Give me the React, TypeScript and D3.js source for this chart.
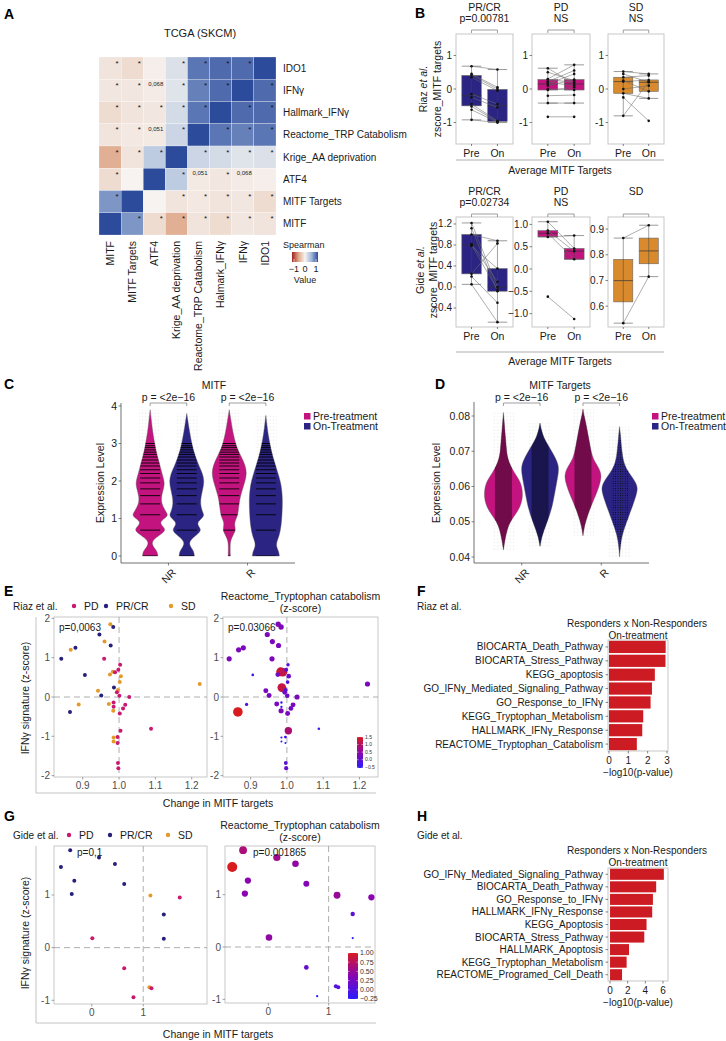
import React from "react";
import * as d3 from "d3";

const FONT = "'Liberation Sans', Arial, Helvetica, sans-serif";
const INK = "#1a1a1a";
const GREY_TXT = "#4d4d4d";
const NAVY = "#2b2483";
const MAGENTA = "#c3137f";
const ORANGE = "#d98a2c";
const BAR_RED = "#cc1b22";
const FRAME = "#c2c2c2";
const PD_COL = "#c9186f";
const PR_COL = "#27207a";
const SD_COL = "#e39a2b";

/* ---------------- Panel A data ---------------- */
const hmRows = ["IDO1", "IFNγ", "Hallmark_IFNγ", "Reactome_TRP Catabolism", "Krige_AA deprivation", "ATF4", "MITF Targets", "MITF"];
const hmCols = ["MITF", "MITF Targets", "ATF4", "Krige_AA deprivation", "Reactome_TRP Catabolism", "Halmark_IFNγ", "IFNγ", "IDO1"];
const hmValues = [
  [-0.10, -0.15, -0.03, 0.15, 0.80, 0.85, 0.85, 1],
  [-0.08, -0.08, -0.05, 0.13, 0.75, 0.85, 1, 0.85],
  [-0.15, -0.10, -0.08, 0.20, 0.80, 1, 0.85, 0.85],
  [-0.10, -0.07, -0.06, 0.25, 1, 0.80, 0.75, 0.80],
  [-0.45, -0.10, 0.32, 1, 0.25, 0.20, 0.13, 0.15],
  [-0.15, 0.00, 1, 0.32, -0.06, -0.08, -0.05, -0.03],
  [0.65, 1, 0.00, -0.10, -0.07, -0.10, -0.08, -0.15],
  [1, 0.65, -0.15, -0.45, -0.10, -0.15, -0.08, -0.10],
];
const hmSig: (number | string)[][] = [
  [1, 1, 0, 1, 1, 1, 1, 0],
  [1, 1, "0,068", 1, 1, 1, 0, 1],
  [1, 1, 1, 1, 1, 0, 1, 1],
  [1, 1, "0,051", 1, 0, 1, 1, 1],
  [1, 1, 1, 0, 1, 1, 1, 1],
  [1, 0, 0, 1, "0,051", 1, "0,068", 0],
  [1, 0, 0, 1, 1, 1, 1, 1],
  [0, 1, 1, 1, 1, 1, 1, 1],
];
const hmLegendTicks = [-1, 0, 1];

/* ---------------- Panel B data ---------------- */
const timepoints = ["Pre", "On"];
const riazPRCR_pre = [0.68, 0.45, 0.42, 0.35, -0.15, -0.25, -0.45, -0.52, -0.62, -0.92];
const riazPRCR_on = [0.58, 0.05, 0.0, -0.05, -0.45, -0.55, -0.95, -0.97, -0.99, -1.0];
const riazPD_pre = [-0.83, -0.42, -0.2, -0.03, 0.0, 0.1, 0.15, 0.2, 0.22, 0.28, 0.3, 0.5, 0.62];
const riazPD_on = [-0.83, -0.42, -0.18, 0.05, -0.03, 0.28, 0.45, 0.1, 0.55, 0.2, 0.72, 0.25, 0.15];
const riazSD_pre = [-0.8, -0.25, -0.13, 0.0, 0.22, 0.25, 0.35, 0.45, 0.52];
const riazSD_on = [0.22, -0.95, -0.28, 0.1, 0.27, -0.07, 0.4, 0.2, 0.45];
const gidePRCR_pre = [0.05, 0.2, 0.25, 0.78, 0.8, 0.82, 1.0, 1.12, 1.22];
const gidePRCR_on = [-0.67, -0.3, 0.83, 0.35, -0.05, 0.1, 0.88, -0.08, 0.0];
const gidePD_pre = [1.06, 0.86, 0.8, 0.72, -0.62];
const gidePD_on = [0.46, 0.4, 0.22, 0.75, -1.12];
const gideSD_pre = [0.865, 0.534];
const gideSD_on = [0.915, 0.715];
const riazTicks = [-1, 0, 1];
const gidePRCRTicks = [-0.4, 0, 0.4, 0.8, 1.2];
const gidePDTicks = [-1, -0.5, 0, 0.5, 1];
const gideSDTicks = [0.6, 0.7, 0.8, 0.9];

/* ---------------- Panel C / D data ---------------- */
const respCats = ["NR", "R"];
const mitfTicks = [0, 1, 2, 3, 4];
// [expression level, relative density]
const mitfNRPre: [number, number][] = [[0, 0.42], [0.12, 0.4], [0.22, 0.22], [0.33, 0.08], [0.45, 0.2], [0.58, 0.6], [0.7, 0.9], [0.82, 0.62], [0.92, 0.55], [1.02, 0.85], [1.1, 1.0], [1.2, 0.85], [1.4, 0.62], [1.6, 0.62], [1.8, 0.75], [1.95, 0.8], [2.1, 0.72], [2.3, 0.6], [2.5, 0.5], [2.75, 0.35], [3.0, 0.25], [3.3, 0.14], [3.6, 0.07], [3.9, 0]];
const mitfNROn: [number, number][] = [[0, 0.42], [0.12, 0.4], [0.22, 0.25], [0.33, 0.12], [0.45, 0.25], [0.58, 0.6], [0.7, 0.83], [0.82, 0.6], [0.92, 0.62], [1.02, 0.88], [1.1, 0.97], [1.2, 0.85], [1.4, 0.75], [1.6, 0.8], [1.8, 0.9], [2.0, 0.97], [2.2, 0.88], [2.4, 0.68], [2.6, 0.52], [2.8, 0.38], [3.0, 0.28], [3.3, 0.16], [3.55, 0.08], [3.8, 0]];
const mitfRPre: [number, number][] = [[0, 0.06], [0.15, 0.05], [0.3, 0.05], [0.42, 0.08], [0.55, 0.2], [0.68, 0.36], [0.8, 0.3], [0.92, 0.3], [1.05, 0.45], [1.2, 0.5], [1.4, 0.55], [1.6, 0.62], [1.8, 0.75], [2.0, 0.88], [2.2, 0.97], [2.4, 0.9], [2.6, 0.72], [2.8, 0.5], [3.0, 0.35], [3.3, 0.2], [3.6, 0.1], [3.9, 0]];
const mitfROn: [number, number][] = [[0, 0.75], [0.12, 0.72], [0.25, 0.58], [0.38, 0.6], [0.55, 0.75], [0.8, 0.85], [1.1, 0.9], [1.5, 0.93], [1.8, 0.88], [2.0, 0.8], [2.2, 0.68], [2.5, 0.48], [2.8, 0.3], [3.1, 0.18], [3.4, 0.08], [3.75, 0]];
const mitfLevels = [0, 0.69, 1.1, 1.39, 1.61, 1.79, 1.95, 2.08, 2.2, 2.3, 2.4, 2.48, 2.56, 2.64, 2.71, 2.77, 2.83, 2.89, 2.94, 3.0];

const tgtTicks = [0.04, 0.05, 0.06, 0.07, 0.08];
const tgtNRPre: [number, number][] = [[0.042, 0], [0.045, 0.08], [0.048, 0.2], [0.05, 0.35], [0.052, 0.6], [0.054, 0.85], [0.057, 1.0], [0.06, 0.95], [0.062, 0.8], [0.064, 0.55], [0.066, 0.35], [0.068, 0.22], [0.07, 0.16], [0.073, 0.12], [0.076, 0.07], [0.079, 0.03], [0.081, 0]];
const tgtNROn: [number, number][] = [[0.043, 0], [0.046, 0.1], [0.049, 0.3], [0.052, 0.5], [0.055, 0.65], [0.058, 0.75], [0.061, 0.85], [0.064, 0.95], [0.066, 0.95], [0.068, 0.8], [0.07, 0.6], [0.072, 0.38], [0.074, 0.18], [0.076, 0.07], [0.078, 0]];
const tgtRPre: [number, number][] = [[0.046, 0], [0.049, 0.08], [0.052, 0.25], [0.055, 0.45], [0.058, 0.7], [0.061, 0.88], [0.063, 0.95], [0.065, 0.85], [0.067, 0.6], [0.069, 0.45], [0.072, 0.35], [0.075, 0.25], [0.078, 0.15], [0.08, 0.06], [0.082, 0]];
const tgtROn: [number, number][] = [[0.04, 0], [0.043, 0.04], [0.046, 0.12], [0.049, 0.3], [0.052, 0.5], [0.055, 0.7], [0.058, 0.88], [0.0595, 0.92], [0.061, 0.85], [0.063, 0.6], [0.065, 0.35], [0.067, 0.2], [0.07, 0.12], [0.073, 0.07], [0.075, 0.04], [0.077, 0]];

/* ---------------- Panel E data (Riaz) ---------------- */
const riazX = [0.976, 0.984, 0.946, 0.96, 0.977, 0.88, 0.867, 0.841, 0.959, 1.003, 0.998, 0.983, 0.989, 0.906, 0.975, 1.005, 1.002, 0.986, 0.942, 0.997, 0.994, 0.951, 1.001, 1.028, 1.222, 0.865, 0.889, 0.972, 0.985, 1.017, 1.011, 0.985, 0.984, 1.002, 1.088, 1.004, 0.985, 0.996, 0.985, 0.996, 0.997, 0.998];
const riazY = [1.85, 1.78, 1.59, 1.41, 1.31, 1.25, 1.2, 0.97, 0.97, 0.82, 0.69, 0.64, 0.63, 0.56, 0.57, 0.53, 0.38, 0.24, 0.16, 0.18, 0.12, 0.04, 0.03, 0.0, 0.33, -0.38, -0.19, -0.18, -0.14, -0.2, -0.29, -0.25, -0.35, -0.42, -0.81, -0.86, -1.03, -1.02, -1.13, -1.17, -1.68, -1.81];
const riazGroup = ["SD", "PR/CR", "PR/CR", "SD", "PR/CR", "PR/CR", "SD", "PR/CR", "PD", "PD", "PD", "SD", "PD", "PR/CR", "SD", "SD", "SD", "PR/CR", "SD", "SD", "PD", "PR/CR", "PD", "PD", "SD", "PR/CR", "SD", "SD", "PD", "PD", "PD", "PD", "SD", "PD", "PD", "PD", "SD", "PD", "SD", "PD", "PD", "PD"];
const riazTrp = [0.35, 0.35, 0.3, 0.3, 0.3, 0.3, 0.3, 0.3, 0.3, -0.15, 0.0, 1.35, 1.2, -0.35, 0.2, 0.15, -0.1, 1.25, 0.25, -0.1, 0.2, 0.25, 0.15, 0.3, 0.3, 1.5, -0.2, 0.25, -0.45, 0.25, 0.2, -0.45, 0.3, 0.25, -0.4, 0.9, -0.5, -0.3, -0.55, -0.55, -0.05, 0.05];
const riazXTicks = [0.9, 1.0, 1.1, 1.2];
const riazYTicks = [-2, -1, 0, 1, 2];
const riazTrpTicks = [-0.5, 0, 0.5, 1, 1.5];

/* ---------------- Panel G data (Gide) ---------------- */
const gideX = [-0.42, -0.6, 0.14, 0.45, -0.34, -0.39, 0.63, 1.14, 1.71, 1.4, 1.4, 0.01, 0.63, 0.81, 1.12, 1.16];
const gideY = [1.85, 1.53, 1.71, 1.59, 1.27, 1.02, 1.21, 0.99, 0.95, 0.63, 0.17, 0.18, -0.39, -0.94, -0.75, -0.77];
const gideGroup = ["PR/CR", "PR/CR", "PR/CR", "PR/CR", "PR/CR", "PR/CR", "PR/CR", "SD", "PD", "PR/CR", "PR/CR", "PD", "PD", "PD", "SD", "PD"];
const gideTrp = [0.65, 1.0, 0.55, 0.45, 0.4, 0.4, 0.35, 0.5, 0.4, 0.1, -0.25, 0.45, 0.15, -0.25, 0.05, 0.05];
const gideXTicks = [0, 1];
const gideYTicks = [-1, 0, 1];
const gideTrpTicks = [-0.25, 0, 0.25, 0.5, 0.75, 1.0];

const respGroups = ["PD", "PR/CR", "SD"];
const respColors = [PD_COL, PR_COL, SD_COL];

/* ---------------- Panel F / H data ---------------- */
const riazPathways = ["BIOCARTA_Death_Pathway", "BIOCARTA_Stress_Pathway", "KEGG_apoptosis", "GO_IFNγ_Mediated_Signaling_Pathway", "GO_Response_to_IFNγ", "KEGG_Tryptophan_Metabolism", "HALLMARK_IFNγ_Response", "REACTOME_Tryptophan_Catabolism"];
const riazLogP = [2.93, 2.92, 2.37, 2.22, 2.15, 1.77, 1.72, 1.44];
const riazBarTicks = [0, 1, 2, 3];
const gidePathways = ["GO_IFNγ_Mediated_Signaling_Pathway", "BIOCARTA_Death_Pathway", "GO_Response_to_IFNγ", "HALLMARK_IFNγ_Response", "KEGG_Apoptosis", "BIOCARTA_Stress_Pathway", "HALLMARK_Apoptosis", "KEGG_Tryptophan_Metabolism", "REACTOME_Programed_Cell_Death"];
const gideLogP = [6.1, 5.23, 4.86, 4.78, 4.14, 3.88, 2.15, 1.88, 1.36];
const gideBarTicks = [0, 2, 4, 6];

/* ================= helpers ================= */
function boxStats(vals: number[]) {
  const s = vals.slice().sort(d3.ascending);
  const q1 = d3.quantileSorted(s, 0.25) as number;
  const med = d3.quantileSorted(s, 0.5) as number;
  const q3 = d3.quantileSorted(s, 0.75) as number;
  const iqr = q3 - q1;
  const lo = d3.min(s.filter((v) => v >= q1 - 1.5 * iqr - 1e-9)) as number;
  const hi = d3.max(s.filter((v) => v <= q3 + 1.5 * iqr + 1e-9)) as number;
  return { q1, med, q3, lo, hi };
}

const Letter = ({ x, y, t }: any) => (
  <text x={x} y={y} fontSize={14} fontWeight="bold" fill="#000">{t}</text>
);

/* ================= Panel A ================= */
function PanelA() {
  const x = d3.scaleBand<string>().domain(hmCols).range([99, 276]);
  const y = d3.scaleBand<string>().domain(hmRows).range([57, 235]);
  const color = d3.scaleLinear<string>().domain([-1, -0.5, 0, 0.5, 1]).range(["#a0211f", "#dfa78a", "#f6f3f0", "#9fb6d9", "#2d4b9b"]).clamp(true);
  const lg = d3.scaleLinear().domain([-1, 1]).range([294, 316]);
  const bw = x.bandwidth(), bh = y.bandwidth();
  return (
    <g>
      <defs>
        <linearGradient id="hmGrad" x1="0" x2="1" y1="0" y2="0">
          {[-1, -0.5, 0, 0.5, 1].map((v) => (
            <stop key={v} offset={`${((v + 1) / 2) * 100}%`} stopColor={color(v)} />
          ))}
        </linearGradient>
      </defs>
      <Letter x={4} y={19} t="A" />
      <text x={200} y={33} dy="0.35em" textAnchor="middle" fontSize={11} fill={INK}>TCGA (SKCM)</text>
      {hmRows.map((r, i) =>
        hmCols.map((c, j) => {
          const cx = x(c) as number, cy = y(r) as number;
          const s = hmSig[i][j];
          return (
            <g key={r + c}>
              <rect x={cx} y={cy} width={bw} height={bh} fill={color(hmValues[i][j])} stroke="#ffffff" strokeWidth={0.25} />
              {s === 1 && <text x={cx + bw - 4} y={cy + 8.5} fontSize={8} textAnchor="middle" fill="#111">*</text>}
              {typeof s === "string" && <text x={cx + 5} y={cy + 5} dy="0.35em" fontSize={6} fill="#222">{s}</text>}
            </g>
          );
        })
      )}
      {hmRows.map((r) => (
        <text key={r} x={283} y={(y(r) as number) + bh / 2} dy="0.35em" fontSize={10} fill={INK}>{r}</text>
      ))}
      {hmCols.map((c) => {
        const cx = (x(c) as number) + bw / 2;
        return (
          <text key={c} transform={`translate(${cx},241) rotate(-90)`} textAnchor="end" dy="0.35em" fontSize={10.5} fill={INK}>{c}</text>
        );
      })}
      <text x={283} y={248} fontSize={9} fill={INK}>Spearman</text>
      <rect x={292} y={252} width={26} height={10} fill="url(#hmGrad)" />
      {hmLegendTicks.map((t) => (
        <g key={t}>
          <line x1={lg(t)} x2={lg(t)} y1={259} y2={262} stroke="#fff" strokeWidth={0.6} />
          <text x={lg(t)} y={272} textAnchor="middle" fontSize={9} fill={INK}>{t === -1 ? "−1" : t}</text>
        </g>
      ))}
      <text x={305} y={283} textAnchor="middle" fontSize={9} fill={INK}>Value</text>
    </g>
  );
}

/* ================= Panel B ================= */
function BoxPanel({ x0, x1, y0, y1, domain, ticks, fmt, fill, pre, on, titles, titleYs, bracketY }: any) {
  const xs = d3.scalePoint<string>().domain(timepoints).range([x0, x1]).padding(0.6);
  const ys = d3.scaleLinear().domain(domain).range([y1, y0]);
  const bw = xs.step() * 0.75;
  const px = timepoints.map((t) => xs(t) as number);
  const groups = [pre, on];
  return (
    <g>
      <rect x={x0} y={y0} width={x1 - x0} height={y1 - y0} fill="#fff" stroke={FRAME} strokeWidth={0.9} />
      {ticks.map((t: number) => (
        <g key={t}>
          <line x1={x0 - 2.5} x2={x0} y1={ys(t)} y2={ys(t)} stroke="#333" strokeWidth={0.6} />
          <text x={x0 - 4} y={ys(t)} dy="0.35em" textAnchor="end" fontSize={10} fill={INK}>{fmt(t)}</text>
        </g>
      ))}
      {groups.map((g: number[], i: number) => {
        const st = boxStats(g);
        const cx = px[i];
        return (
          <g key={i}>
            <rect x={cx - bw / 2} y={ys(st.q3)} width={bw} height={ys(st.q1) - ys(st.q3)} fill={fill} stroke="#666" strokeWidth={0.6} />
            <line x1={cx - bw / 2} x2={cx + bw / 2} y1={ys(st.med)} y2={ys(st.med)} stroke="#333" strokeWidth={0.7} />
            <line x1={cx} x2={cx} y1={ys(st.hi)} y2={ys(st.lo)} stroke="#444" strokeWidth={0.5} />
            <line x1={cx - bw / 2} x2={cx + bw / 2} y1={ys(st.hi)} y2={ys(st.hi)} stroke="#555" strokeWidth={0.6} />
            <line x1={cx - bw / 2} x2={cx + bw / 2} y1={ys(st.lo)} y2={ys(st.lo)} stroke="#555" strokeWidth={0.6} />
          </g>
        );
      })}
      {pre.map((v: number, k: number) => (
        <line key={k} x1={px[0]} y1={ys(v)} x2={px[1]} y2={ys(on[k])} stroke="#6a6a6a" strokeWidth={0.55} />
      ))}
      {groups.map((g: number[], i: number) =>
        g.map((v, k) => <circle key={i + "-" + k} cx={px[i]} cy={ys(v)} r={1.3} fill="#111" />)
      )}
      {timepoints.map((t, i) => (
        <g key={t}>
          <line x1={px[i]} x2={px[i]} y1={y1} y2={y1 + 2} stroke="#333" strokeWidth={0.6} />
          <text x={px[i]} y={y1 + 9} dy="0.35em" textAnchor="middle" fontSize={10.5} fill={INK}>{t}</text>
        </g>
      ))}
      {titles.map((t: string, i: number) => (
        <text key={i} x={(px[0] + px[1]) / 2} y={titleYs[i]} dy="0.35em" textAnchor="middle" fontSize={10.5} fill={INK}>{t}</text>
      ))}
      <path d={`M${px[0]},${bracketY + 3}V${bracketY}H${px[1]}V${bracketY + 3}`} fill="none" stroke="#777" strokeWidth={0.7} />
    </g>
  );
}

function PanelB() {
  const f1 = d3.format(".1f");
  const fi = (d: number) => String(d);
  const riazDomain = [-1.64, 1.64];
  const xr = [[456, 513], [532, 590], [608, 664]];
  return (
    <g>
      <Letter x={415} y={18} t="B" />
      <BoxPanel x0={xr[0][0]} x1={xr[0][1]} y0={34} y1={144} domain={riazDomain} ticks={riazTicks} fmt={fi} fill={NAVY} pre={riazPRCR_pre} on={riazPRCR_on} titles={["PR/CR", "p=0.00781"]} titleYs={[7, 18]} bracketY={30} />
      <BoxPanel x0={xr[1][0]} x1={xr[1][1]} y0={34} y1={144} domain={riazDomain} ticks={riazTicks} fmt={fi} fill={MAGENTA} pre={riazPD_pre} on={riazPD_on} titles={["PD", "NS"]} titleYs={[7, 18]} bracketY={30} />
      <BoxPanel x0={xr[2][0]} x1={xr[2][1]} y0={34} y1={144} domain={riazDomain} ticks={riazTicks} fmt={fi} fill={ORANGE} pre={riazSD_pre} on={riazSD_on} titles={["SD", "NS"]} titleYs={[7, 18]} bracketY={30} />
      <text transform="translate(423,89) rotate(-90)" textAnchor="middle" dy="0.35em" fontSize={10.5} fill={INK}>
        <tspan>Riaz </tspan><tspan fontStyle="italic">et al.</tspan>
      </text>
      <text transform="translate(437,89) rotate(-90)" textAnchor="middle" dy="0.35em" fontSize={10.5} fill={INK}>zscore_MITF targets</text>
      <line x1={456} x2={664} y1={160} y2={160} stroke="#999" strokeWidth={0.8} />
      <text x={560} y={170} dy="0.35em" textAnchor="middle" fontSize={10.5} fill={INK}>Average MITF Targets</text>

      <BoxPanel x0={xr[0][0]} x1={xr[0][1]} y0={217} y1={327} domain={[-0.762, 1.333]} ticks={gidePRCRTicks} fmt={f1} fill={NAVY} pre={gidePRCR_pre} on={gidePRCR_on} titles={["PR/CR", "p=0.02734"]} titleYs={[191, 202]} bracketY={214} />
      <BoxPanel x0={xr[1][0]} x1={xr[1][1]} y0={217} y1={327} domain={[-1.3, 1.166]} ticks={gidePDTicks} fmt={f1} fill={MAGENTA} pre={gidePD_pre} on={gidePD_on} titles={["PD", "NS"]} titleYs={[191, 202]} bracketY={214} />
      <BoxPanel x0={xr[2][0]} x1={xr[2][1]} y0={217} y1={327} domain={[0.519, 0.947]} ticks={gideSDTicks} fmt={f1} fill={ORANGE} pre={gideSD_pre} on={gideSD_on} titles={["SD"]} titleYs={[191]} bracketY={214} />
      <text transform="translate(420,270) rotate(-90)" textAnchor="middle" dy="0.35em" fontSize={10.5} fill={INK}>
        <tspan>Gide </tspan><tspan fontStyle="italic">et al.</tspan>
      </text>
      <text transform="translate(433,270) rotate(-90)" textAnchor="middle" dy="0.35em" fontSize={10.5} fill={INK}>zscore_MITF targets</text>
      <line x1={456} x2={664} y1={352} y2={352} stroke="#999" strokeWidth={0.8} />
      <text x={560} y={361} dy="0.35em" textAnchor="middle" fontSize={10.5} fill={INK}>Average MITF Targets</text>
    </g>
  );
}

/* ================= Panels C / D ================= */
function violinPath(cx: number, ys: any, prof: [number, number][], maxHalf: number) {
  const area = d3
    .area<[number, number]>()
    .y((d) => ys(d[0]))
    .x0((d) => cx - d[1] * maxHalf)
    .x1((d) => cx + d[1] * maxHalf)
    .curve(d3.curveBasis);
  return area(prof) as string;
}

function ViolinPanel(props: any) {
  const { id, ax0, ax1, ayTop, ayBot, ys, ticks, fmt, specs, mode, title, titleX, ylabX, legendX, letterX } = props;
  const xs = d3.scalePoint<string>().domain(respCats).range([ax0, ax1]).padding(0.6);
  const dodge = 18.3;
  const maxHalf = mode === "levels" ? 18 : 19.5;
  return (
    <g>
      <Letter x={letterX} y={389} t={mode === "levels" ? "C" : "D"} />
      <text x={titleX} y={385} dy="0.35em" textAnchor="middle" fontSize={10.5} fill={INK}>{title}</text>
      {specs.map((s: any, i: number) => {
        const cx = (xs(s.cat) as number) + s.side * dodge;
        const d = violinPath(cx, ys, s.prof, maxHalf);
        const vmin = s.prof[0][0], vmax = s.prof[s.prof.length - 1][0];
        const cid = `${id}-clip-${i}`;
        return (
          <g key={i}>
            <defs>
              <clipPath id={cid}><path d={d} /></clipPath>
            </defs>
            {mode === "levels" ? (
              <rect x={cx - 11} width={22} y={ys(vmax)} height={ys(2.7) - ys(vmax)} fill="url(#pSparse)" />
            ) : (
              <rect x={cx - 11} width={22} y={ys(vmax)} height={ys(vmin) - ys(vmax)} fill="url(#pSparse)" />
            )}
            <path d={d} fill={s.fill} stroke="#555" strokeWidth={0.4} />
            {mode === "levels" ? (
              <g clipPath={`url(#${cid})`}>
                {mitfLevels.filter((l) => l < vmax).map((l) => (
                  <line key={l} x1={cx - 10} x2={cx + 10} y1={ys(l)} y2={ys(l)} stroke="#000" strokeWidth={0.9} />
                ))}
              </g>
            ) : (
              <rect clipPath={`url(#${cid})`} x={cx - 8.5} width={17} y={ys(vmax)} height={ys(vmin) - ys(vmax)} fill={s.dense ? "url(#pDense)" : "url(#pMed)"} />
            )}
          </g>
        );
      })}
      {/* brackets */}
      {respCats.map((c) => {
        const a = (xs(c) as number) - dodge, b = (xs(c) as number) + dodge;
        return (
          <g key={c}>
            <path d={`M${a},406V403H${b}V406`} fill="none" stroke="#777" strokeWidth={0.7} />
            <text x={(a + b) / 2} y={397} dy="0.35em" textAnchor="middle" fontSize={10.5} fill={INK}>p = &lt;2e−16</text>
          </g>
        );
      })}
      {/* axes */}
      <line x1={ax0} x2={ax0} y1={ayTop} y2={ayBot} stroke="#333" strokeWidth={0.7} />
      <line x1={ax0} x2={ax1} y1={ayBot} y2={ayBot} stroke="#333" strokeWidth={0.7} />
      {ticks.map((t: number) => (
        <g key={t}>
          <line x1={ax0 - 2.5} x2={ax0} y1={ys(t)} y2={ys(t)} stroke="#333" strokeWidth={0.6} />
          <text x={ax0 - 4} y={ys(t)} dy="0.35em" textAnchor="end" fontSize={10.5} fill={INK}>{fmt(t)}</text>
        </g>
      ))}
      {respCats.map((c) => (
        <g key={c}>
          <line x1={xs(c) as number} x2={xs(c) as number} y1={ayBot} y2={ayBot + 2.5} stroke="#333" strokeWidth={0.6} />
          <text transform={`translate(${(xs(c) as number) + 3},${ayBot + 5}) rotate(-45)`} textAnchor="end" dy="0.7em" fontSize={10.5} fill={INK}>{c}</text>
        </g>
      ))}
      <text transform={`translate(${ylabX},483) rotate(-90)`} textAnchor="middle" dy="0.35em" fontSize={10.5} fill={INK}>Expression Level</text>
      {/* legend */}
      <rect x={legendX} y={413} width={6.5} height={6.5} fill={MAGENTA} />
      <rect x={legendX} y={423} width={6.5} height={6.5} fill={NAVY} />
      <text x={legendX + 9} y={416} dy="0.35em" fontSize={10.5} fill={INK}>Pre-treatment</text>
      <text x={legendX + 9} y={426} dy="0.35em" fontSize={10.5} fill={INK}>On-Treatment</text>
    </g>
  );
}

function PanelC() {
  const ys = d3.scaleLinear().domain([0, 4]).range([556, 406]);
  const specs = [
    { cat: "NR", side: -1, prof: mitfNRPre, fill: MAGENTA },
    { cat: "NR", side: 1, prof: mitfNROn, fill: NAVY },
    { cat: "R", side: -1, prof: mitfRPre, fill: MAGENTA },
    { cat: "R", side: 1, prof: mitfROn, fill: NAVY },
  ];
  return (
    <ViolinPanel id="c" ax0={121} ax1={295} ayTop={403} ayBot={563} ys={ys} ticks={mitfTicks} fmt={(d: number) => String(d)} specs={specs} mode="levels" title="MITF" titleX={214} ylabX={100} legendX={304} letterX={4} />
  );
}

function PanelD() {
  const ys = d3.scaleLinear().domain([0.04, 0.08]).range([557, 416]);
  const specs = [
    { cat: "NR", side: -1, prof: tgtNRPre, fill: MAGENTA, dense: true },
    { cat: "NR", side: 1, prof: tgtNROn, fill: NAVY, dense: true },
    { cat: "R", side: -1, prof: tgtRPre, fill: MAGENTA, dense: true },
    { cat: "R", side: 1, prof: tgtROn, fill: NAVY, dense: false },
  ];
  return (
    <ViolinPanel id="d" ax0={474} ax1={649} ayTop={402} ayBot={563} ys={ys} ticks={tgtTicks} fmt={d3.format(".2f")} specs={specs} mode="dots" title="MITF Targets" titleX={560} ylabX={436} legendX={652} letterX={435} />
  );
}

/* ================= Panels E / G ================= */
function ScatterFrame({ xs, ys, xTicks, yTicks, xFmt, yFmt }: any) {
  const [x0, x1] = xs.range();
  const [y1, y0] = ys.range();
  return (
    <g>
      <rect x={x0} y={y0} width={x1 - x0} height={y1 - y0} fill="#fff" stroke={FRAME} strokeWidth={0.9} />
      <line x1={xs(1)} x2={xs(1)} y1={y0} y2={y1} stroke="#999" strokeWidth={0.8} strokeDasharray="6,4" />
      <line x1={x0} x2={x1} y1={ys(0)} y2={ys(0)} stroke="#999" strokeWidth={0.8} strokeDasharray="6,4" />
      {yTicks.map((t: number) => (
        <g key={t}>
          <line x1={x0 - 2.5} x2={x0} y1={ys(t)} y2={ys(t)} stroke="#666" strokeWidth={0.6} />
          <text x={x0 - 4} y={ys(t)} dy="0.35em" textAnchor="end" fontSize={10} fill={GREY_TXT}>{yFmt(t)}</text>
        </g>
      ))}
      {xTicks.map((t: number) => (
        <g key={t}>
          <line x1={xs(t)} x2={xs(t)} y1={y1} y2={y1 + 2.5} stroke="#666" strokeWidth={0.6} />
          <text x={xs(t)} y={y1 + 8} dy="0.35em" textAnchor="middle" fontSize={10} fill={GREY_TXT}>{xFmt(t)}</text>
        </g>
      ))}
    </g>
  );
}

function ColorBar({ x, yTop, yBot, w, domain, ticks, fmt, color, fs, id }: any) {
  const s = d3.scaleLinear().domain(domain).range([yBot, yTop]);
  const stops = d3.range(0, 1.0001, 0.25).map((p) => domain[0] + p * (domain[1] - domain[0]));
  return (
    <g>
      <defs>
        <linearGradient id={id} x1="0" x2="0" y1="1" y2="0">
          {stops.map((v: number, i: number) => (
            <stop key={i} offset={`${(i / (stops.length - 1)) * 100}%`} stopColor={color(v)} />
          ))}
        </linearGradient>
      </defs>
      <rect x={x} y={yTop} width={w} height={yBot - yTop} fill={`url(#${id})`} />
      {ticks.map((t: number) => (
        <g key={t}>
          <line x1={x} x2={x + 1.5} y1={s(t)} y2={s(t)} stroke="#fff" strokeWidth={0.5} />
          <line x1={x + w - 1.5} x2={x + w} y1={s(t)} y2={s(t)} stroke="#fff" strokeWidth={0.5} />
          <text x={x + w + 2} y={s(t)} dy="0.35em" fontSize={fs} fill="#333">{fmt(t)}</text>
        </g>
      ))}
    </g>
  );
}

function ScatterPanel(props: any) {
  const { letter, letterY, study, legendY, legendDots, f1, f2, xd1, xd2, yd, xTicks, yTicks, xFmt, X, Y, G, Z, pos1, pos2, p1, p2, titleY, zDomain, zMid, zTicks, zFmt, rRange, cb, border, xlabY, ylabY } = props;
  const xs1 = d3.scaleLinear().domain(xd1).range([f1[0], f1[1]]);
  const ys1 = d3.scaleLinear().domain(yd).range([f1[3], f1[2]]);
  const xs2 = d3.scaleLinear().domain(xd2).range([f2[0], f2[1]]);
  const ys2 = d3.scaleLinear().domain(yd).range([f2[3], f2[2]]);
  const gColor = d3.scaleOrdinal<string, string>().domain(respGroups).range(respColors);
  const zColor = d3.scaleLinear<string>().domain([zDomain[0], zMid, zDomain[1]]).range(["#2a1bff", "#8a05b0", "#d81b1f"]).clamp(true);
  const zSize = d3.scaleLinear().domain(zDomain).range(rRange).clamp(true);
  const yFmt = (d: number) => String(d);
  const order = d3.range(X.length).sort((a, b) => zSize(Z[b]) - zSize(Z[a]));
  return (
    <g>
      <Letter x={4} y={letterY} t={letter} />
      <text x={13} y={legendY} dy="0.35em" fontSize={10} fill={INK}>{study}</text>
      {respGroups.map((g, i) => (
        <g key={g}>
          <circle cx={legendDots[i]} cy={legendY} r={2.2} fill={gColor(g)} />
          <text x={legendDots[i] + 10} y={legendY} dy="0.35em" fontSize={10.5} fill={INK}>{g}</text>
        </g>
      ))}
      <path d={`M${border[0]},${border[1]}V${border[2]}H${border[3]}`} fill="none" stroke="#bdbdbd" strokeWidth={0.9} />
      <ScatterFrame xs={xs1} ys={ys1} xTicks={xTicks} yTicks={yTicks} xFmt={xFmt} yFmt={yFmt} />
      {X.map((x: number, i: number) => (
        <circle key={i} cx={xs1(x)} cy={ys1(Y[i])} r={2} fill={gColor(G[i])} />
      ))}
      <text x={pos1[0]} y={pos1[1]} dy="0.35em" fontSize={10} fill={INK}>{p1}</text>
      <ScatterFrame xs={xs2} ys={ys2} xTicks={xTicks} yTicks={yTicks} xFmt={xFmt} yFmt={yFmt} />
      {order.map((i: number) => (
        <circle key={i} cx={xs2(X[i])} cy={ys2(Y[i])} r={zSize(Z[i])} fill={zColor(Z[i])} />
      ))}
      <text x={pos2[0]} y={pos2[1]} dy="0.35em" fontSize={10} fill={INK}>{p2}</text>
      <text x={(f2[0] + f2[1]) / 2} y={titleY} dy="0.35em" textAnchor="middle" fontSize={10.5} fill={INK}>Reactome_Tryptophan catabolism</text>
      <text x={(f2[0] + f2[1]) / 2} y={titleY + 12} dy="0.35em" textAnchor="middle" fontSize={10.5} fill={INK}>(z-score)</text>
      <ColorBar x={cb[0]} yTop={cb[1]} yBot={cb[2]} w={cb[3]} domain={zDomain} ticks={zTicks} fmt={zFmt} color={zColor} fs={cb[4]} id={`cb-${letter}`} />
      <text x={218} y={xlabY} dy="0.35em" textAnchor="middle" fontSize={10.5} fill={INK}>Change in MITF targets</text>
      <text transform={`translate(25,${ylabY}) rotate(-90)`} textAnchor="middle" dy="0.35em" fontSize={10.5} fill={INK}>IFNγ signature (z-score)</text>
    </g>
  );
}

function PanelE() {
  return (
    <ScatterPanel
      letter="E" letterY={596} study="Riaz et al." legendY={606} legendDots={[74, 106, 171]}
      f1={[54, 207, 617, 777]} f2={[223, 378, 617, 777]}
      xd1={[0.821, 1.242]} xd2={[0.824, 1.251]} yd={[-2.035, 2.035]}
      xTicks={riazXTicks} yTicks={riazYTicks} xFmt={d3.format(".1f")}
      X={riazX} Y={riazY} G={riazGroup} Z={riazTrp}
      pos1={[59, 627]} pos2={[228, 627]} p1="p=0,0063" p2="p=0.03066" titleY={596}
      zDomain={[-0.55, 1.5]} zMid={0.45} zTicks={riazTrpTicks} zFmt={d3.format(".1f")} rRange={[1.0, 4.8]}
      cb={[357, 737, 768, 6, 5]} border={[36, 617, 793, 376]} xlabY={803} ylabY={698}
    />
  );
}

function PanelG() {
  return (
    <ScatterPanel
      letter="G" letterY={821} study="Gide et al." legendY={835} legendDots={[69, 110, 168]}
      f1={[54, 207, 846, 1004]} f2={[225, 375, 846, 1003]}
      xd1={[-0.735, 2.24]} xd2={[-0.72, 1.77]} yd={[-1.07, 1.93]}
      xTicks={gideXTicks} yTicks={gideYTicks} xFmt={(d: number) => String(d)}
      X={gideX} Y={gideY} G={gideGroup} Z={gideTrp}
      pos1={[77, 852]} pos2={[253, 852]} p1="p=0,1" p2="p=0.001865" titleY={825}
      zDomain={[-0.25, 1.0]} zMid={0.4} zTicks={gideTrpTicks} zFmt={d3.format(".2f")} rRange={[1.1, 5]}
      cb={[348, 953, 999, 10, 7]} border={[36, 846, 1023, 376]} xlabY={1034} ylabY={933}
    />
  );
}

/* ================= Panels F / H ================= */
function BarPanel({ letter, letterY, study, studyY, names, values, frame, xDomain, ticks, titleY }: any) {
  const [x0, x1, y0, y1] = frame;
  const xs = d3.scaleLinear().domain(xDomain).range([x0, x1]);
  const ys = d3.scaleBand<string>().domain(names).range([y0, y1]).paddingInner(0.12).paddingOuter(0.06);
  return (
    <g>
      <Letter x={417} y={letterY} t={letter} />
      <text x={417} y={studyY} dy="0.35em" fontSize={10} fill={INK}>{study}</text>
      <text x={637} y={titleY} dy="0.35em" textAnchor="middle" fontSize={10} fill={INK}>Responders x Non-Responders</text>
      <text x={638} y={titleY + 12} dy="0.35em" textAnchor="middle" fontSize={10} fill={INK}>On-treatment</text>
      <rect x={x0} y={y0} width={x1 - x0} height={y1 - y0} fill="#fff" stroke={FRAME} strokeWidth={0.9} />
      {names.map((n: string, i: number) => (
        <g key={n}>
          <rect x={xs(0)} y={ys(n)} width={xs(values[i]) - xs(0)} height={ys.bandwidth()} fill={BAR_RED} />
          <line x1={x0 - 2.5} x2={x0} y1={(ys(n) as number) + ys.bandwidth() / 2} y2={(ys(n) as number) + ys.bandwidth() / 2} stroke="#333" strokeWidth={0.6} />
          <text x={x0 - 5} y={(ys(n) as number) + ys.bandwidth() / 2} dy="0.35em" textAnchor="end" fontSize={10} fill={INK}>{n}</text>
        </g>
      ))}
      {ticks.map((t: number) => (
        <g key={t}>
          <line x1={xs(t)} x2={xs(t)} y1={y1} y2={y1 + 2.5} stroke="#333" strokeWidth={0.6} />
          <text x={xs(t)} y={y1 + 9} dy="0.35em" textAnchor="middle" fontSize={10} fill={INK}>{t}</text>
        </g>
      ))}
      <text x={(x0 + x1) / 2} y={y1 + 21} dy="0.35em" textAnchor="middle" fontSize={10} fill={INK}>−log10(p-value)</text>
    </g>
  );
}

function PanelF() {
  return <BarPanel letter="F" letterY={596} study="Riaz et al." studyY={606} names={riazPathways} values={riazLogP} frame={[608, 668, 640, 751]} xDomain={[-0.05, 3.05]} ticks={riazBarTicks} titleY={623} />;
}

function PanelH() {
  return <BarPanel letter="H" letterY={821} study="Gide et al." studyY={835} names={gidePathways} values={gideLogP} frame={[608, 668, 868, 981]} xDomain={[-0.23, 6.57]} ticks={gideBarTicks} titleY={850} />;
}

export default function App() {
  return (
    <svg width={726} height={1041} viewBox="0 0 726 1041" style={{ position: "absolute", left: 0, top: 0, background: "#fff" }} fontFamily={FONT}>
      <defs>
        <pattern id="pDense" width="1.4" height="1.4" patternUnits="userSpaceOnUse">
          <circle cx="0.7" cy="0.7" r="0.55" fill="#000" />
        </pattern>
        <pattern id="pMed" width="2.4" height="2.4" patternUnits="userSpaceOnUse">
          <circle cx="1.2" cy="1.2" r="0.5" fill="#000" />
        </pattern>
        <pattern id="pSparse" width="3.2" height="3.4" patternUnits="userSpaceOnUse">
          <circle cx="1.6" cy="1.7" r="0.35" fill="#9a9a9a" />
        </pattern>
      </defs>
      <rect x={0} y={0} width={726} height={1041} fill="#fff" />
      <PanelA />
      <PanelB />
      <PanelC />
      <PanelD />
      <PanelE />
      <PanelF />
      <PanelG />
      <PanelH />
    </svg>
  );
}
